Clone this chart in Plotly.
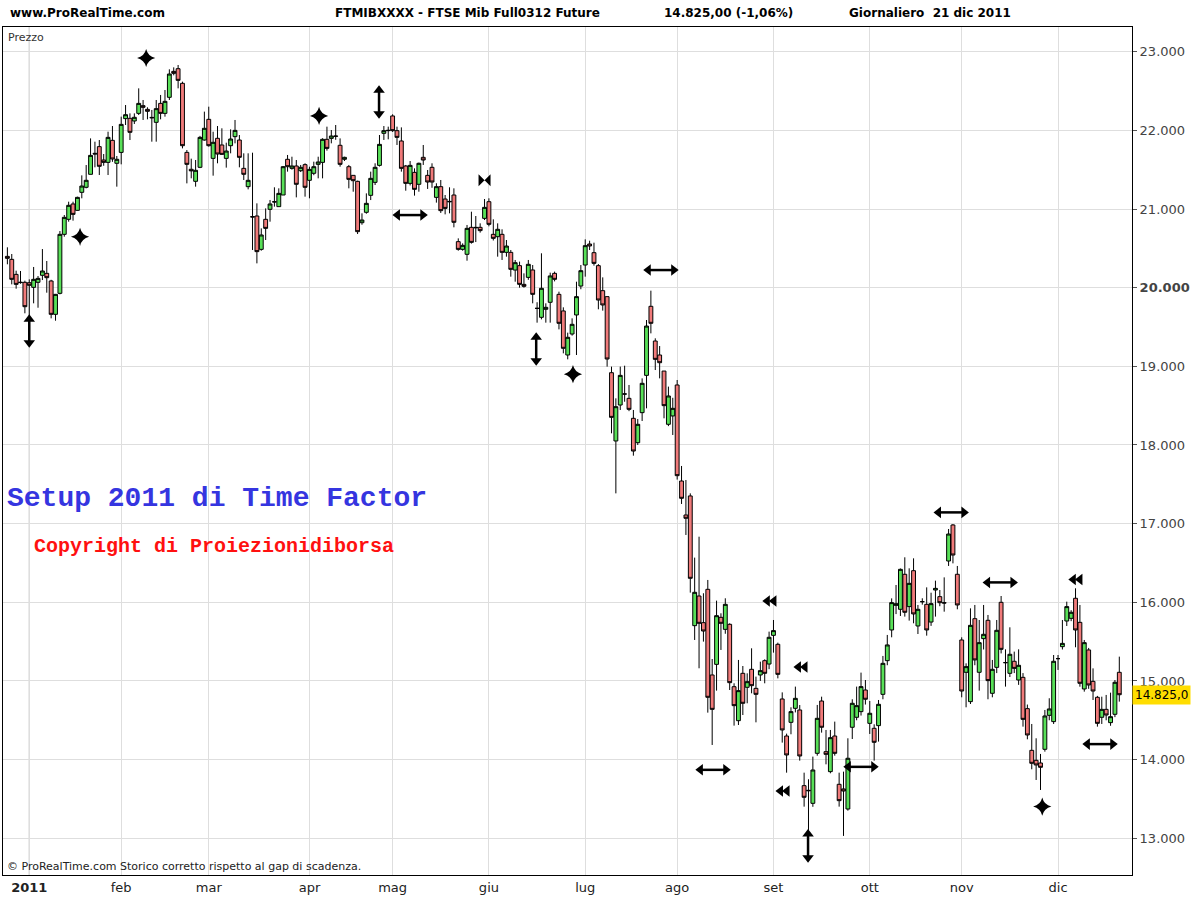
import plotly.graph_objects as go

# ---- data (FTSE Mib future, daily, 2011) ----
opens = [20398, 20360, 20169, 20070, 20068, 20063, 20004, 20068, 20157, 20182,
         20085, 19661, 19928, 20678, 20869, 21064, 20983, 21212, 21276, 21441,
         21708, 21793, 21623, 21593, 21873, 21581, 21720, 22149, 22153, 22119,
         22216, 22314, 22267, 22165, 22102, 22343, 22216, 22420, 22750, 22784,
         22598, 21720, 21505, 21352, 21530, 21877, 22140, 21644, 21899, 21814,
         21644, 21805, 21920, 21877, 21517, 21284, 20903, 20911, 20487, 20869,
         20996, 21093, 21030, 21178, 21632, 21517, 21547, 21487, 21564, 21365,
         21454, 21568, 21593, 21886, 21898, 21928, 21810, 21632, 21538, 21428,
         21352, 20826, 20958, 21174, 21339, 21555, 21962, 21996, 22183, 21996,
         21865, 21547, 21326, 21466, 21314, 21657, 21428, 21530, 21148, 21284,
         21127, 21097, 21178, 20585, 20487, 20424, 20767, 20767, 20767, 20881,
         21093, 20678, 20648, 20678, 20449, 20449, 20224, 20280, 20042, 20131,
         20225, 19737, 19623, 19725, 19814, 20182, 19915, 19704, 19144, 19411,
         19653, 20021, 20288, 20555, 20445, 20280, 19962, 19886, 18919, 18051,
         18508, 18648, 18593, 18339, 18029, 18411, 18885, 19763, 19322, 19144,
         18940, 18263, 18369, 18763, 17542, 17110, 17352, 15703, 16080, 15741,
         16165, 15076, 15211, 15809, 15656, 15720, 14927, 14495, 15097, 14919,
         15148, 14906, 15076, 15258, 15215, 15580, 15466, 14771, 14300, 14474,
         14652, 14631, 13669, 13610, 13444, 14080, 14745, 14101, 13847, 14300,
         13686, 13627, 13372, 14411, 14538, 14610, 14885, 14461, 14398, 14432,
         14830, 15258, 15648, 15961, 15911, 16356, 15945, 16402, 15699, 16008,
         15974, 15749, 16156, 16072, 15995, 16525, 16983, 16356, 15521, 15110,
         14737, 15792, 15110, 15538, 15771, 14843, 15173, 16000, 15233, 15097,
         15250, 15012, 15046, 14648, 14118, 13991, 13957, 14131, 14563, 14483,
         15284, 15436, 15762, 15796, 16051, 15745, 14898, 15394, 14995, 14792,
         14538, 14639, 14470, 14576, 15110]
highs = [20513, 20428, 20216, 20212, 20089, 20106, 20263, 20148, 20491, 20339,
         20100, 19920, 20720, 20924, 21093, 21093, 21157, 21428, 21559, 21898,
         21856, 21877, 21699, 21983, 22055, 21674, 22174, 22322, 22216, 22216,
         22534, 22386, 22293, 22259, 22386, 22450, 22513, 22776, 22801, 22831,
         22619, 21750, 21640, 21623, 21930, 22238, 22301, 21983, 22055, 22026,
         21843, 22013, 22132, 21941, 21708, 21708, 21716, 21072, 20754, 21008,
         21115, 21276, 21263, 21547, 21687, 21665, 21623, 21560, 21581, 21538,
         21602, 21665, 21900, 22047, 22004, 22068, 21898, 21665, 21560, 21432,
         21360, 20945, 21199, 21475, 21581, 21941, 22055, 22047, 22204, 22047,
         22038, 21560, 21610, 21517, 21590, 21814, 21496, 21581, 21327, 21369,
         21178, 21276, 21263, 20627, 20563, 20797, 20966, 20911, 20818, 21127,
         21136, 20869, 20818, 20742, 20606, 20479, 20352, 20331, 20182, 20352,
         20288, 19815, 20437, 19801, 20191, 20204, 19949, 19750, 19428, 19610,
         20076, 20288, 20614, 20597, 20572, 20300, 20131, 19890, 18996, 18593,
         18996, 19008, 18763, 18445, 18330, 18847, 19589, 19962, 19356, 19258,
         18940, 18742, 18600, 18826, 17733, 17555, 17385, 16568, 16834, 16115,
         16284, 15279, 16021, 15860, 16051, 15733, 14970, 15267, 15190, 15097,
         15415, 15055, 15245, 15275, 15627, 15775, 15487, 14855, 14330, 14665,
         14928, 14694, 13834, 13750, 14038, 14695, 14800, 14377, 14377, 14483,
         13834, 13847, 14271, 14767, 14928, 15106, 15012, 14745, 14449, 14758,
         15318, 15585, 16050, 16220, 16430, 16572, 16432, 16559, 15966, 16051,
         16190, 16122, 16275, 16156, 16317, 16932, 16995, 16462, 15555, 15224,
         15923, 15966, 15775, 15966, 15839, 15267, 15775, 16080, 15402, 15682,
         15373, 15402, 15100, 14700, 14453, 14271, 14072, 14631, 14780, 15330,
         15330, 15775, 16008, 15900, 16178, 15966, 15521, 15420, 15160, 14810,
         14800, 14822, 14851, 15012, 15309]
lows = [20297, 20042, 19987, 20050, 19674, 19589, 19801, 19745, 20097, 19936,
        19610, 19580, 19915, 20648, 20839, 20852, 20979, 21136, 21263, 21441,
        21530, 21432, 21550, 21432, 21600, 21284, 21568, 22068, 21877, 22081,
        22195, 22132, 22140, 21856, 21856, 22140, 22174, 22386, 22700, 22534,
        21771, 21326, 21390, 21284, 21520, 21869, 21793, 21424, 21581, 21687,
        21526, 21708, 21835, 21530, 21369, 21250, 20479, 20309, 20470, 20606,
        20839, 21030, 21030, 21178, 21475, 21500, 21148, 21470, 21157, 21136,
        21430, 21390, 21390, 21742, 21835, 21880, 21538, 21610, 21263, 21220,
        20682, 20800, 20940, 21114, 21305, 21540, 21878, 21886, 21980, 21814,
        21475, 21233, 21300, 21170, 21220, 21560, 21255, 21270, 21081, 20950,
        20932, 20945, 20767, 20470, 20470, 20343, 20560, 20580, 20700, 20860,
        20780, 20600, 20394, 20352, 20394, 20140, 20076, 20000, 20000, 20100,
        19801, 19555, 19597, 19555, 19555, 20080, 19470, 19165, 19089, 19390,
        19144, 19980, 20140, 20479, 20280, 19725, 19708, 18996, 18148, 17385,
        18445, 18550, 18430, 17864, 18000, 18305, 18466, 19419, 18953, 18847,
        18339, 18240, 18127, 17560, 17250, 16856, 16123, 15521, 15161, 15500,
        14597, 14186, 14877, 15394, 15600, 14885, 14432, 14440, 14567, 14716,
        14843, 14474, 15000, 14970, 15150, 15360, 15033, 14216, 13834, 14322,
        14600, 13987, 13402, 13040, 13400, 14050, 14343, 13940, 13826, 14050,
        13402, 13030, 13351, 14262, 14500, 14560, 14700, 14326, 13987, 14229,
        14767, 15200, 15555, 15850, 15826, 15818, 15767, 15733, 15597, 15970,
        15576, 15700, 15818, 15950, 15881, 16462, 16495, 15911, 14792, 14665,
        14707, 15200, 14877, 15400, 14767, 14792, 15100, 15350, 14928, 15050,
        15100, 14950, 14419, 14258, 13877, 13741, 13614, 14101, 14500, 14453,
        15140, 15400, 15699, 15760, 15428, 14927, 14864, 14900, 14758, 14419,
        14453, 14500, 14430, 14540, 14737]
closes = [20373, 20106, 20042, 20065, 19758, 20030, 20106, 20118, 20212, 20127,
          19661, 19915, 20678, 20894, 21047, 20932, 21148, 21292, 21365, 21682,
          21700, 21543, 21593, 21911, 21636, 21632, 22076, 22199, 21975, 22166,
          22343, 22293, 22242, 22160, 22276, 22216, 22369, 22716, 22725, 22636,
          21805, 21568, 21485, 21492, 21911, 22026, 21805, 21848, 21699, 21695,
          21737, 21890, 22000, 21657, 21441, 21365, 20899, 20458, 20670, 20754,
          21064, 21090, 21199, 21538, 21538, 21547, 21314, 21530, 21276, 21504,
          21538, 21598, 21886, 21771, 21928, 21925, 21568, 21657, 21377, 21360,
          20712, 20860, 21072, 21390, 21530, 21822, 21996, 22000, 21996, 21911,
          21517, 21326, 21555, 21250, 21581, 21623, 21343, 21343, 21284, 20979,
          21008, 21093, 20831, 20487, 20538, 20754, 20576, 20762, 20725, 21021,
          20805, 20627, 20742, 20449, 20529, 20233, 20318, 20042, 20017, 20297,
          19915, 19737, 19992, 19750, 20149, 20106, 19547, 19229, 19369, 19534,
          19886, 20216, 20534, 20530, 20309, 19843, 19780, 19093, 18351, 18487,
          18885, 18648, 18453, 17923, 18263, 18784, 19512, 19547, 19089, 19046,
          18500, 18623, 18466, 17610, 17322, 17068, 16305, 16127, 15733, 15635,
          14792, 14639, 15830, 15733, 15974, 14978, 14686, 14877, 14716, 14991,
          14940, 14830, 15131, 15097, 15555, 15640, 15084, 14377, 14059, 14610,
          14779, 14046, 13521, 13605, 13868, 14525, 14411, 14067, 14279, 14080,
          13478, 13601, 14017, 14716, 14686, 14928, 14767, 14589, 14220, 14703,
          15224, 15458, 15996, 15982, 16419, 15873, 16241, 15852, 15911, 16008,
          15648, 15983, 16177, 15995, 15991, 16868, 16601, 15966, 14872, 15182,
          15707, 15267, 15487, 15593, 15004, 15148, 15644, 15402, 15233, 15339,
          15160, 15199, 14512, 14313, 13953, 13932, 13902, 14555, 14644, 15250,
          15284, 15478, 15945, 15873, 15648, 14970, 15487, 14949, 14872, 14461,
          14639, 14567, 14546, 14983, 14825]
days = list(range(len(closes)))

# month starts (trading-day index) and labels
month_idx = [5, 26, 46, 69, 88, 110, 132, 153, 175, 197, 218, 240]
month_lbl = ['<b>2011</b>', 'feb', 'mar', 'apr', 'mag', 'giu', 'lug', 'ago', 'set', 'ott', 'nov', 'dic']

price_ticks = [13000, 14000, 15000, 16000, 17000, 18000, 19000, 20000, 21000, 22000, 23000]
price_lbls = ['13.000', '14.000', '15.000', '16.000', '17.000', '18.000', '19.000',
              '<b>20.000</b>', '21.000', '22.000', '23.000']

# Time Factor signals: (day index, price level)
hh_x = [92.0, 149.3, 161.2, 195.0, 215.6, 226.8, 249.6]          # horizontal double arrows
hh_y = [20923, 20224, 13870, 13908, 17143, 16253, 14197]
vv_x = [5.0, 84.9, 120.8, 182.9]                                  # vertical double arrows
vv_y = [19449, 22360, 19220, 12903]
st_x = [31.7, 16.6, 71.2, 129.2, 236.4]                           # stars
st_y = [22920, 20646, 22183, 18900, 13403]
ll_x = [174.2, 181.3, 177.2, 244.1]                               # double left triangles
ll_y = [16016, 15177, 13601, 16291]
bt_x = [109.0]                                                    # bowtie
bt_y = [21367]

W, H = 1200, 900
L, R, T, B = 3, 1132, 27, 875


def px(x):
    return (x - L) / (R - L)


def py(y):
    return (B - y) / (B - T)


fig = go.Figure()

fig.add_trace(go.Candlestick(
    x=days, open=opens, high=highs, low=lows, close=closes,
    increasing=dict(fillcolor='#58e058', line=dict(color='black', width=1)),
    decreasing=dict(fillcolor='#f07a7a', line=dict(color='black', width=1)),
    whiskerwidth=0, showlegend=False, hoverinfo='skip'))

# signal glyphs
dx, dy = 2.9, 150
seg_x, seg_y = [], []
for x, y in zip(hh_x, hh_y):
    seg_x += [x - dx, x + dx, None]
    seg_y += [y, y, None]
for x, y in zip(vv_x, vv_y):
    seg_x += [x, x, None]
    seg_y += [y - dy, y + dy, None]
fig.add_trace(go.Scatter(x=seg_x, y=seg_y, mode='lines', line=dict(color='black', width=2.5),
                         showlegend=False, hoverinfo='skip'))
fig.add_trace(go.Scatter(x=[x - dx for x in hh_x], y=hh_y, mode='markers',
                         marker=dict(symbol='triangle-left', size=10, color='black'),
                         showlegend=False, hoverinfo='skip'))
fig.add_trace(go.Scatter(x=[x + dx for x in hh_x], y=hh_y, mode='markers',
                         marker=dict(symbol='triangle-right', size=10, color='black'),
                         showlegend=False, hoverinfo='skip'))
fig.add_trace(go.Scatter(x=vv_x, y=[y + dy for y in vv_y], mode='markers',
                         marker=dict(symbol='triangle-up', size=10, color='black'),
                         showlegend=False, hoverinfo='skip'))
fig.add_trace(go.Scatter(x=vv_x, y=[y - dy for y in vv_y], mode='markers',
                         marker=dict(symbol='triangle-down', size=10, color='black'),
                         showlegend=False, hoverinfo='skip'))
fig.add_trace(go.Scatter(x=st_x, y=st_y, mode='markers',
                         marker=dict(symbol='star-diamond', size=13, color='black'),
                         showlegend=False, hoverinfo='skip'))
fig.add_trace(go.Scatter(x=[x - 0.6 for x in ll_x] + [x + 0.9 for x in ll_x], y=ll_y + ll_y, mode='markers',
                         marker=dict(symbol='triangle-left', size=10, color='black'),
                         showlegend=False, hoverinfo='skip'))
fig.add_trace(go.Scatter(x=bt_x, y=bt_y, mode='markers',
                         marker=dict(symbol='bowtie', size=12, color='black'),
                         showlegend=False, hoverinfo='skip'))

# darker year separator
fig.add_vline(x=month_idx[0], line=dict(color='#a8a8a8', width=1), layer='below')

hdr = dict(family='DejaVu Sans', size=12, color='black')
annots = [
    dict(x=px(8), y=py(13), text='<b>www.ProRealTime.com</b>', xanchor='left'),
    dict(x=px(333), y=py(13), text='<b>FTMIBXXXX - FTSE Mib Full0312 Future</b>', xanchor='left'),
    dict(x=px(662), y=py(13), text='<b>14.825,00 (-1,06%)</b>', xanchor='left'),
    dict(x=px(847), y=py(13), text='<b>Giornaliero  21 dic 2011</b>', xanchor='left'),
]
for a in annots:
    fig.add_annotation(xref='paper', yref='paper', yanchor='middle', showarrow=False, font=hdr, **a)

fig.add_annotation(xref='paper', yref='paper', x=px(6), y=py(37), text='Prezzo', xanchor='left',
                   yanchor='middle', showarrow=False, font=dict(family='DejaVu Sans', size=11, color='#333'))
fig.add_annotation(xref='paper', yref='paper', x=px(5), y=py(866),
                   text='© ProRealTime.com Storico corretto rispetto al gap di scadenza.',
                   xanchor='left', yanchor='middle', showarrow=False,
                   font=dict(family='DejaVu Sans', size=11, color='#222'))
fig.add_annotation(xref='paper', yref='paper', x=px(5), y=py(498), text='<b>Setup 2011 di Time Factor</b>',
                   xanchor='left', yanchor='middle', showarrow=False,
                   font=dict(family='Liberation Mono', size=28, color='#3535e0'))
fig.add_annotation(xref='paper', yref='paper', x=px(32), y=py(546), text='<b>Copyright di Proiezionidiborsa</b>',
                   xanchor='left', yanchor='middle', showarrow=False,
                   font=dict(family='Liberation Mono', size=20, color='#ff1010'))
# last price tag
fig.add_annotation(xref='paper', yref='y', x=1.0, y=closes[-1], text='14.825,0', xanchor='left',
                   yanchor='middle', showarrow=False, bgcolor='#ffdd00', borderpad=2,
                   font=dict(family='DejaVu Sans', size=12, color='black'))

fig.update_layout(
    width=W, height=H,
    margin=dict(l=L, r=W - R, t=T, b=H - B),
    paper_bgcolor='white', plot_bgcolor='white',
    boxgap=0.12, boxgroupgap=0,
    xaxis=dict(range=[-1.0, 256.9], rangeslider=dict(visible=False),
               tickvals=month_idx, ticktext=month_lbl, ticks='',
               tickfont=dict(family='DejaVu Sans', size=13, color='#222'),
               showgrid=True, gridcolor='#dedede', gridwidth=1, zeroline=False,
               showline=True, linecolor='black', linewidth=1, mirror=True),
    yaxis=dict(range=[12533, 23314], side='right',
               tickvals=price_ticks, ticktext=price_lbls, ticks='outside', ticklen=4,
               tickcolor='#555', tickfont=dict(family='DejaVu Sans', size=13, color='#444'),
               showgrid=True, gridcolor='#dedede', gridwidth=1, zeroline=False,
               showline=True, linecolor='black', linewidth=1, mirror=True),
    font=dict(family='DejaVu Sans'),
)

fig.write_html("out.html", config={'displayModeBar': False},
               post_script="document.body.style.margin='0';")
